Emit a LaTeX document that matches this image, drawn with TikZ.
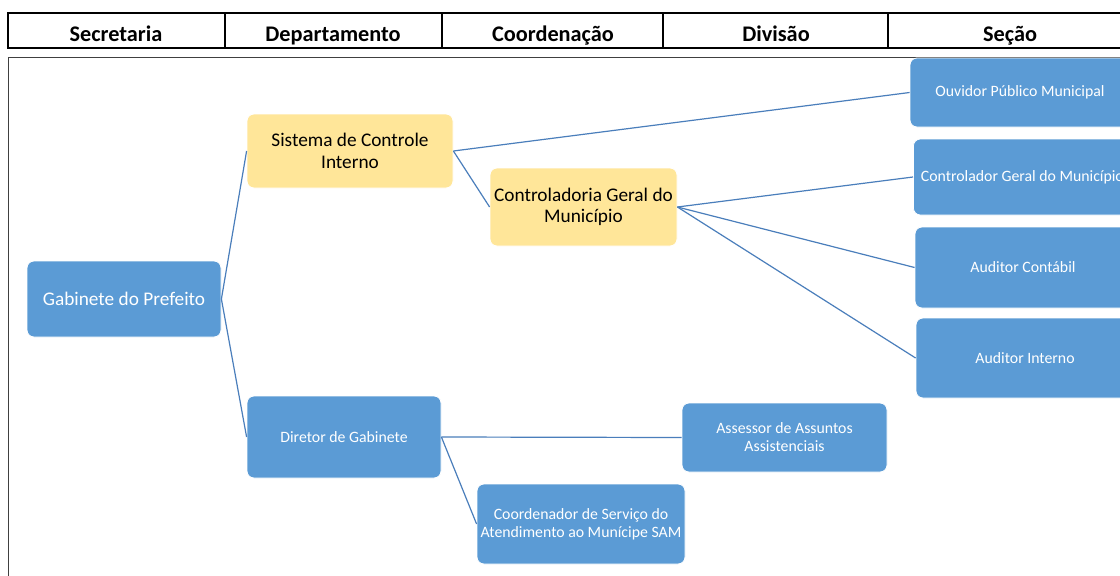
\documentclass[tikz,border=0pt]{standalone}
\usepackage{fontspec}
\setmainfont{Carlito}
\definecolor{boxblue}{HTML}{5B9BD5}
\definecolor{boxyellow}{HTML}{FFE699}
\definecolor{edgeblue}{HTML}{4A7EBB}
\begin{document}
\begin{tikzpicture}[x=1pt,y=-1pt,
  box/.style={draw=white, line width=0.8pt, rounded corners=7pt, fill=boxblue, text=white, align=center, inner sep=0pt},
  ybox/.style={box, fill=boxyellow, text=black},
  big/.style={font=\fontsize{19.3}{21.5}\selectfont},
  small/.style={font=\fontsize{15.8}{18}\selectfont},
  head/.style={font=\fontsize{22.3}{24}\selectfont\bfseries, anchor=base, inner sep=0pt},
  link/.style={draw=edgeblue, line width=1.2pt}]
\clip (0,0) rectangle (1120,576);
\fill[white] (0,0) rectangle (1120,576);
% header table
\draw[line width=1.3pt] (8,13) rectangle (1140,48);
\foreach \x in {225,442,663,888} \draw[line width=1.1pt] (\x,13) -- (\x,48);
\node[head] (h1) at (116,41) {Secretaria};
\node[head] (h2) at (333,41) {Departamento};
\node[head] (h3) at (553,41) {Coordenação};
\node[head] (h4) at (776,41) {Divisão};
\node[head] (h5) at (1010,41) {Seção};
% frame
\draw[line width=0.9pt, black!75] (8,57) rectangle (1140,600);
% nodes
\node[box, big, minimum width=194pt, minimum height=76pt] (gab) at (124,299) {Gabinete do Prefeito};
\node[ybox, big, minimum width=206pt, minimum height=74pt] (sis) at (350,151) {Sistema de Controle\\Interno};
\node[ybox, big, minimum width=187pt, minimum height=78pt] (cgm) at (583.5,207) {Controladoria Geral do\\Município};
\node[box, small, minimum width=194pt, minimum height=82pt] (dir) at (344,437) {Diretor de Gabinete};
\node[box, small, minimum width=220pt, minimum height=69pt] (ouv) at (1020,92.5) {Ouvidor Público Municipal};
\node[box, small, minimum width=218pt, minimum height=76pt, anchor=west, inner xsep=4pt] (con) at (913,177) {Controlador Geral do Município};
\node[box, small, minimum width=216pt, minimum height=81pt] (aco) at (1023,267.5) {Auditor Contábil};
\node[box, small, minimum width=218pt, minimum height=80pt] (ain) at (1025,358) {Auditor Interno};
\node[box, small, minimum width=205pt, minimum height=69pt] (ass) at (784.5,437.5) {Assessor de Assuntos\\Assistenciais};
\node[box, small, minimum width=208pt, minimum height=80pt] (coo) at (581,524) {Coordenador de Serviço do\\Atendimento ao Munícipe SAM};
% links
\draw[link] (gab.east) -- (sis.west);
\draw[link] (gab.east) -- (dir.west);
\draw[link] (sis.east) -- (ouv.west);
\draw[link] (sis.east) -- (cgm.west);
\draw[link] (cgm.east) -- (con.west);
\draw[link] (cgm.east) -- (aco.west);
\draw[link] (cgm.east) -- (ain.west);
\draw[link] (dir.east) -- (ass.west);
\draw[link] (dir.east) -- (coo.west);
\end{tikzpicture}
\end{document}
